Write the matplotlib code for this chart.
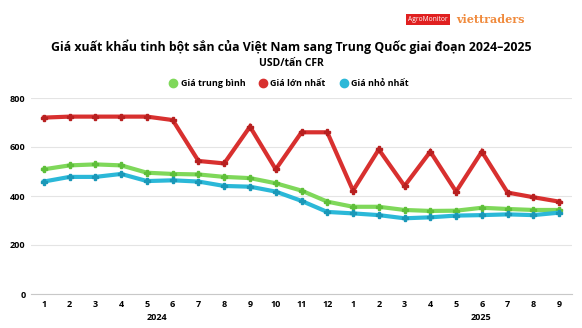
import matplotlib
matplotlib.use("Agg")
import matplotlib.pyplot as plt

months = ["1","2","3","4","5","6","7","8","9","10","11","12","1","2","3","4","5","6","7","8","9"]
years = ["2024", "2025"]
avg_price = [509,525,529,525,495,490,488,478,473,452,422,377,356,356,343,339,340,352,347,343,343]
max_price = [720,724,724,724,724,710,543,533,683,509,660,660,422,590,441,581,418,581,414,395,377]
min_price = [459,478,478,490,461,464,459,441,438,418,380,335,329,322,309,313,320,322,325,322,332]
series_names = ["Giá trung bình", "Giá lớn nhất", "Giá nhỏ nhất"]
colors = ["#7fd85a", "#d8302f", "#2bb8d8"]
mcolors = ["#5fbf3a", "#b82020", "#1a98b8"]

plt.rcParams['font.family'] = ['Open Sans', 'DejaVu Sans']
fig = plt.figure(figsize=(5.82, 3.28), dpi=100)
W, H = 582, 328
ax = fig.add_axes([31/W, 1-294/H, (572-31)/W, (294-98)/H])
x = list(range(len(months)))
for vals, c, mc, name in zip([avg_price, max_price, min_price], colors, mcolors, series_names):
    ax.plot(x, vals, color=c, lw=3.0, marker='P', ms=4, mfc=mc, mec=mc, solid_joinstyle='miter', label=name)

ax.set_xlim(-0.5, len(months)-0.5)
ax.set_ylim(0, 800)
ax.set_yticks([0, 200, 400, 600, 800])
ax.set_xticks(x)
ax.set_xticklabels(months)
ax.tick_params(axis='x', length=0, labelsize=6.5, pad=4)
ax.tick_params(axis='y', length=0, labelsize=6.5, pad=4)
for lab in ax.get_xticklabels() + ax.get_yticklabels():
    lab.set_fontweight('bold')
ax.grid(axis='y', color='#e4e4e4', lw=0.8)
ax.set_axisbelow(True)
for s in ['top', 'right', 'left']:
    ax.spines[s].set_visible(False)
ax.spines['bottom'].set_color('#c8c8c8')

fig.text(157/W, 1-318/H, years[0], ha='center', va='center', fontsize=6.5, fontweight='bold')
fig.text(481/W, 1-318/H, years[1], ha='center', va='center', fontsize=6.5, fontweight='bold')

fig.text(0.5, 1-47/H, "Giá xuất khẩu tinh bột sắn của Việt Nam sang Trung Quốc giai đoạn 2024–2025",
         ha='center', va='center', fontsize=8.9, fontweight='bold')
fig.text(0.5, 1-64/H, "USD/tấn CFR", ha='center', va='center', fontsize=7.5, fontweight='bold')

leg = fig.legend(handles=ax.get_lines(), labels=series_names, loc='center', bbox_to_anchor=(0.5, 1-84/H),
                 ncol=3, frameon=False, fontsize=6.5, handlelength=0, handletextpad=0.8, columnspacing=2.0)
for h, c in zip(leg.legend_handles, colors):
    h.set_marker('o'); h.set_markersize(6); h.set_markerfacecolor(c); h.set_markeredgecolor(c); h.set_linestyle('none')
for t in leg.get_texts():
    t.set_fontweight('bold')

fig.text(428/W, 1-19.5/H, "AgroMonitor", ha='center', va='center', fontsize=4.8, color='white',
         bbox=dict(boxstyle='square,pad=0.35', fc='#e02020', ec='none'))
fig.text(456/W, 1-19.5/H, "viettraders", ha='left', va='center', fontsize=8, color='#f08a3c',
         fontweight='bold', family=['DejaVu Serif'])

fig.savefig("out.png", dpi=100)
